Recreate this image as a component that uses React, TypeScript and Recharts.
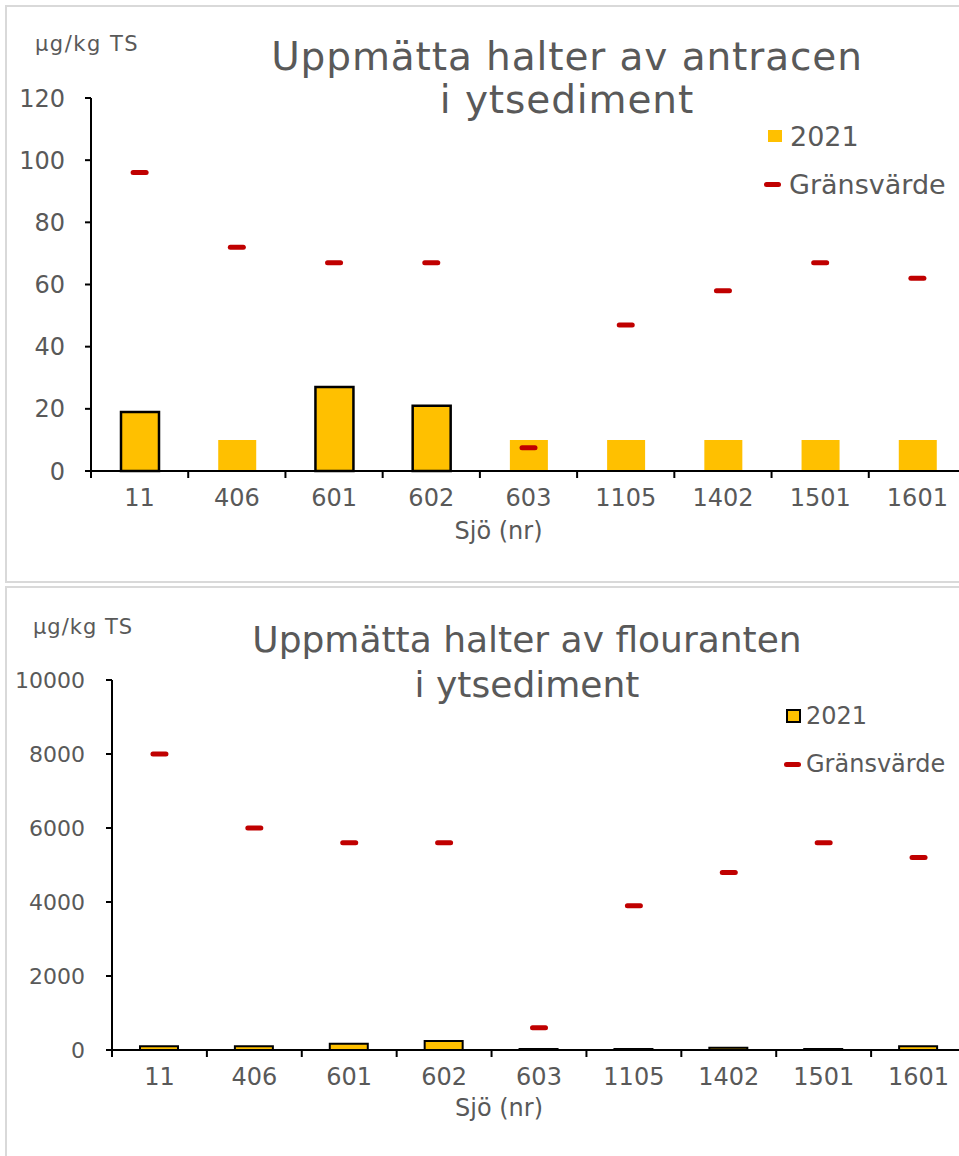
import { Bar, Cell, ComposedChart, Legend, Line, XAxis, YAxis } from "recharts";

const sjoar = ["11", "406", "601", "602", "603", "1105", "1402", "1501", "1601"];

// antracen, µg/kg TS
const antracen2021 = [19, 10, 27, 21, 10, 10, 10, 10, 10];
const antracenUppmatt = [true, false, true, true, false, false, false, false, false];
const antracenGrans = [96, 72, 67, 67, 7.5, 47, 58, 67, 62];
const antracenTicks = [0, 20, 40, 60, 80, 100, 120];

// flouranten, µg/kg TS
const flouranten2021 = [100, 100, 170, 240, 30, 25, 60, 25, 100];
const flourantenGrans = [8000, 6000, 5600, 5600, 600, 3900, 4800, 5600, 5200];
const flourantenTicks = [0, 2000, 4000, 6000, 8000, 10000];

const FONT = "'DejaVu Sans', sans-serif";
const GREY = "#595959";
const YELLOW = "#FFC000";
const RED = "#C00000";

const CHART_W = 1000;
const RIGHT_MARGIN = 34;

const antracenData = sjoar.map((s, i) => ({
  sjo: s,
  v2021: antracen2021[i],
  grans: antracenGrans[i],
  uppmatt: antracenUppmatt[i],
}));

const flourantenData = sjoar.map((s, i) => ({
  sjo: s,
  v2021: flouranten2021[i],
  grans: flourantenGrans[i],
}));

const Dash = (props: any) => {
  const { cx, cy, index } = props;
  if (cx == null || cy == null) return <g key={`d-${index}`} />;
  return (
    <rect key={`d-${index}`} x={cx - 9} y={cy - 2.5} width={18} height={5} rx={2.5} fill={RED} />
  );
};

const makeTick = (leftEdge: number) => (props: any) => {
  const { x, y, payload, index } = props;
  const bw = (CHART_W - RIGHT_MARGIN - leftEdge) / sjoar.length;
  const axisY = y - 17;
  return (
    <g>
      <line x1={x - bw / 2} x2={x - bw / 2} y1={axisY} y2={axisY + 7} stroke="#000" strokeWidth={2} />
      {index === sjoar.length - 1 && (
        <line x1={x + bw / 2} x2={x + bw / 2} y1={axisY} y2={axisY + 7} stroke="#000" strokeWidth={2} />
      )}
      <text x={x} y={y} dy={18} textAnchor="middle" fill={GREY} fontSize={24} fontFamily={FONT}>
        {payload.value}
      </text>
    </g>
  );
};

const makeLegend = (bordered: boolean, fontSize: number) => () => (
  <div style={{ fontFamily: FONT, color: GREY, fontSize }}>
    <div style={{ display: "flex", alignItems: "center", height: 48 }}>
      <span
        style={{
          display: "inline-block",
          width: bordered ? 11 : 14,
          height: bordered ? 10 : 12,
          background: YELLOW,
          border: bordered ? "2px solid #000" : "none",
          marginLeft: bordered ? 2 : 4,
          marginRight: bordered ? 5 : 8,
        }}
      />
      2021
    </div>
    <div style={{ display: "flex", alignItems: "center", height: 48 }}>
      <span
        style={{
          display: "inline-block",
          width: 17,
          height: 5,
          borderRadius: 3,
          background: RED,
          marginRight: bordered ? 5 : 8,
        }}
      />
      Gränsvärde
    </div>
  </div>
);

const textStyle = (top: number, left: number, width: number, size: number, extra = {}) => ({
  position: "absolute" as const,
  top,
  left,
  width,
  fontFamily: FONT,
  fontSize: size,
  color: GREY,
  textAlign: "center" as const,
  ...extra,
});

export default function App() {
  return (
    <div
      style={{
        position: "absolute",
        left: 0,
        top: 0,
        width: 959,
        height: 1156,
        overflow: "hidden",
        background: "#fff",
      }}
    >
      <div
        style={{
          position: "absolute",
          left: 5,
          top: 5,
          width: 1000,
          height: 574,
          border: "2px solid #d9d9d9",
        }}
      />
      <div
        style={{
          position: "absolute",
          left: 5,
          top: 586,
          width: 1000,
          height: 600,
          border: "2px solid #d9d9d9",
        }}
      />

      {/* top chart */}
      <div style={{ position: "absolute", left: 0, top: 0 }}>
        <ComposedChart
          width={CHART_W}
          height={580}
          data={antracenData}
          margin={{ top: 98, right: RIGHT_MARGIN, left: 0, bottom: 29 }}
          barCategoryGap={0}
        >
          <XAxis
            dataKey="sjo"
            height={80}
            tickLine={false}
            tickSize={7}
            tickMargin={10}
            axisLine={{ stroke: "#000", strokeWidth: 2 }}
            tick={makeTick(91)}
            interval={0}
            label={{
              value: "Sjö (nr)",
              position: "insideBottom",
              offset: 12,
              dx: -30,
              fill: GREY,
              fontSize: 24,
              fontFamily: FONT,
            }}
          />
          <YAxis
            width={91}
            domain={[0, 120]}
            ticks={antracenTicks}
            interval={0}
            tickSize={6}
            tickMargin={20}
            axisLine={{ stroke: "#000", strokeWidth: 2 }}
            tickLine={{ stroke: "#000", strokeWidth: 2 }}
            tick={{ fill: GREY, fontSize: 24, fontFamily: FONT }}
          />
          <Legend
            layout="vertical"
            align="center"
            verticalAlign="middle"
            wrapperStyle={{ top: 112, left: 764, width: 200 }}
            content={makeLegend(false, 27)}
          />
          <Bar dataKey="v2021" name="2021" barSize={38} fill={YELLOW} isAnimationActive={false}>
            {antracenData.map((d, i) => (
              <Cell
                key={i}
                fill={YELLOW}
                stroke={d.uppmatt ? "#000" : "none"}
                strokeWidth={d.uppmatt ? 2.5 : 0}
              />
            ))}
          </Bar>
          <Line
            dataKey="grans"
            name="Gränsvärde"
            stroke="none"
            dot={Dash}
            activeDot={false}
            isAnimationActive={false}
          />
        </ComposedChart>
      </div>

      {/* bottom chart */}
      <div style={{ position: "absolute", left: 0, top: 580 }}>
        <ComposedChart
          width={CHART_W}
          height={580}
          data={flourantenData}
          margin={{ top: 100, right: RIGHT_MARGIN, left: 0, bottom: 30 }}
          barCategoryGap={0}
        >
          <XAxis
            dataKey="sjo"
            height={80}
            tickLine={false}
            tickSize={7}
            tickMargin={10}
            axisLine={{ stroke: "#000", strokeWidth: 2 }}
            tick={makeTick(112)}
            interval={0}
            label={{
              value: "Sjö (nr)",
              position: "insideBottom",
              offset: 14,
              dx: -40,
              fill: GREY,
              fontSize: 24,
              fontFamily: FONT,
            }}
          />
          <YAxis
            width={112}
            domain={[0, 10000]}
            ticks={flourantenTicks}
            interval={0}
            tickSize={6}
            tickMargin={21}
            axisLine={{ stroke: "#000", strokeWidth: 2 }}
            tickLine={{ stroke: "#000", strokeWidth: 2 }}
            tick={{ fill: GREY, fontSize: 22, fontFamily: FONT }}
          />
          <Legend
            layout="vertical"
            align="center"
            verticalAlign="middle"
            wrapperStyle={{ top: 112, left: 784, width: 200 }}
            content={makeLegend(true, 24)}
          />
          <Bar
            dataKey="v2021"
            name="2021"
            barSize={38}
            fill={YELLOW}
            stroke="#000"
            strokeWidth={2}
            isAnimationActive={false}
          />
          <Line
            dataKey="grans"
            name="Gränsvärde"
            stroke="none"
            dot={Dash}
            activeDot={false}
            isAnimationActive={false}
          />
        </ComposedChart>
      </div>

      {/* titles and units */}
      <div style={textStyle(32, 35, 140, 21, { textAlign: "left", letterSpacing: 1.5 })}>µg/kg TS</div>
      <div style={textStyle(35, 167, 800, 39, { lineHeight: "43px", letterSpacing: 0.9 })}>
        Uppmätta halter av antracen
        <br />i ytsediment
      </div>

      <div style={textStyle(615, 33, 140, 21, { textAlign: "left", letterSpacing: 1 })}>µg/kg TS</div>
      <div style={textStyle(617, 127, 800, 36, { lineHeight: "45px" })}>
        Uppmätta halter av flouranten
        <br />i ytsediment
      </div>
    </div>
  );
}
